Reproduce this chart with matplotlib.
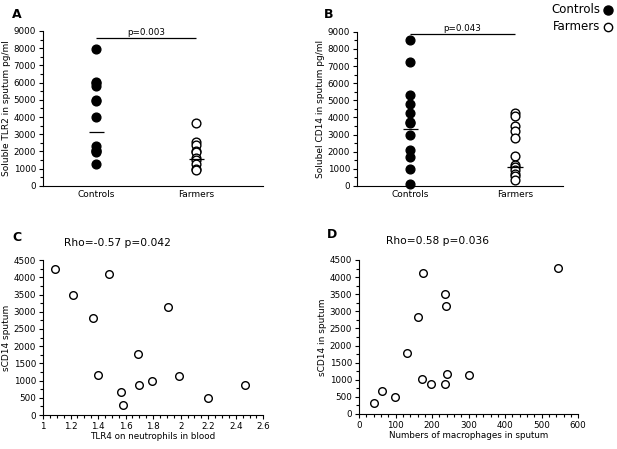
import matplotlib.pyplot as plt
from matplotlib.ticker import MultipleLocator

# ---------------- data ----------------
groups = ["Controls", "Farmers"]

tlr2_controls = [7950, 6050, 5950, 5800, 5000, 4950, 4000, 2300, 2100, 2000, 1950, 1300]
tlr2_farmers = [3650, 2550, 2400, 2050, 1950, 1600, 1500, 1250, 1000, 950]
tlr2_lines = [3150, 1550]
tlr2_p = "p=0.003"

cd14_controls = [8500, 7250, 5300, 4800, 4250, 3750, 3650, 2950, 2100, 1700, 1000, 100]
cd14_farmers = [4250, 4100, 3500, 3200, 2800, 1750, 1200, 1100, 900, 700, 550, 350]
cd14_lines = [3350, 1100]
cd14_p = "p=0.043"

tlr4_x = [1.09, 1.22, 1.36, 1.48, 1.40, 1.57, 1.58, 1.69, 1.70, 1.79, 1.91, 1.99, 2.20, 2.47]
tlr4_y = [4250, 3500, 2830, 4100, 1160, 680, 300, 1780, 860, 1000, 3140, 1140, 490, 880]

macro_x = [42, 62, 99, 131, 160, 174, 173, 196, 234, 237, 234, 241, 301, 544]
macro_y = [310, 680, 490, 1790, 2840, 4130, 1010, 870, 3500, 3150, 890, 1170, 1150, 4260]

TICK_FS = 6.3
LAB_FS = 6.5
plt.rcParams['font.family'] = 'DejaVu Sans'

fig = plt.figure(figsize=(6.17, 4.49), dpi=100)


def style_axes(ax):
    for s in ["top", "right"]:
        ax.spines[s].set_visible(False)
    for s in ["left", "bottom"]:
        ax.spines[s].set_linewidth(0.8)
    ax.tick_params(which="both", direction="out", labelsize=TICK_FS, width=0.8, pad=2)
    ax.tick_params(which="major", length=3)
    ax.tick_params(which="minor", length=2)


def dot_panel(rect, controls, farmers, lines, ptext, pline_y, xlim, ylabel):
    ax = fig.add_axes(rect)
    style_axes(ax)
    ax.plot([0] * len(controls), controls, "o", color="black", ms=6.3, clip_on=False)
    ax.plot([1] * len(farmers), farmers, "o", mfc="white", mec="black", mew=1.0, ms=6.3, clip_on=False)
    for i, v in enumerate(lines):
        ax.hlines(v, i - 0.075, i + 0.075, color="black", lw=0.9)
    ax.hlines(pline_y, 0, 1, color="black", lw=0.9, clip_on=False)
    ax.text(0.5, pline_y + 60, ptext, ha="center", va="bottom", fontsize=6.3)
    ax.set_xlim(*xlim)
    ax.set_ylim(0, 9000)
    ax.set_xticks([0, 1])
    ax.set_xticklabels(groups, fontsize=LAB_FS)
    ax.tick_params(axis="x", length=0, pad=3)
    ax.yaxis.set_major_locator(MultipleLocator(1000))
    ax.yaxis.set_minor_locator(MultipleLocator(500))
    ax.set_ylabel(ylabel, fontsize=LAB_FS, labelpad=2)
    return ax


def scatter_panel(rect, x, y, xlim, xmaj, xmin, xlabel, ylabel):
    ax = fig.add_axes(rect)
    style_axes(ax)
    ax.plot(x, y, "o", mfc="white", mec="black", mew=1.0, ms=5.5, clip_on=False)
    ax.set_xlim(*xlim)
    ax.set_ylim(0, 4500)
    ax.xaxis.set_major_locator(MultipleLocator(xmaj))
    ax.xaxis.set_minor_locator(MultipleLocator(xmin))
    ax.yaxis.set_major_locator(MultipleLocator(500))
    ax.yaxis.set_minor_locator(MultipleLocator(250))
    ax.xaxis.set_major_formatter(plt.FuncFormatter(lambda v, p: f"{v:g}"))
    ax.set_xlabel(xlabel, fontsize=6.3, labelpad=1)
    ax.set_ylabel(ylabel, fontsize=LAB_FS, labelpad=2)
    return ax


dot_panel([0.0697, 0.586, 0.357, 0.345], tlr2_controls, tlr2_farmers, tlr2_lines,
          tlr2_p, 8600, (-0.53, 1.67), "Soluble TLR2 in sputum pg/ml")
dot_panel([0.5786, 0.586, 0.334, 0.343], cd14_controls, cd14_farmers, cd14_lines,
          cd14_p, 8850, (-0.51, 1.46), "Solubel CD14 in sputum pg/ml")

scatter_panel([0.0697, 0.0757, 0.357, 0.345], tlr4_x, tlr4_y, (1, 2.6), 0.2, 0.05,
              "TLR4 on neutrophils in blood", "sCD14 sputum")
scatter_panel([0.582, 0.078, 0.355, 0.343], macro_x, macro_y, (0, 600), 100, 20,
              "Numbers of macrophages in sputum", "sCD14 in sputum")

# correlation annotations
fig.text(117 / 617, 1 - 243 / 449, "Rho=-0.57 p=0.042", ha="center", va="center", fontsize=7.7)
fig.text(437 / 617, 1 - 241 / 449, "Rho=0.58 p=0.036", ha="center", va="center", fontsize=7.7)

# panel letters
for lab, x, y in [("A", 0.02, 0.968), ("B", 0.525, 0.968), ("C", 0.02, 0.47), ("D", 0.53, 0.477)]:
    fig.text(x, y, lab, fontsize=9, fontweight="bold", va="center")

# legend at top right
fig.text(0.973, 0.978, "Controls", ha="right", va="center", fontsize=8.5)
fig.text(0.973, 0.94, "Farmers", ha="right", va="center", fontsize=8.5)
fig.lines.append(plt.Line2D([0.985], [0.978], marker="o", color="black", ms=6.5,
                            transform=fig.transFigure, figure=fig))
fig.lines.append(plt.Line2D([0.985], [0.94], marker="o", mfc="white", mec="black", ms=6,
                            transform=fig.transFigure, figure=fig))

fig.savefig("out.png", dpi=100)
